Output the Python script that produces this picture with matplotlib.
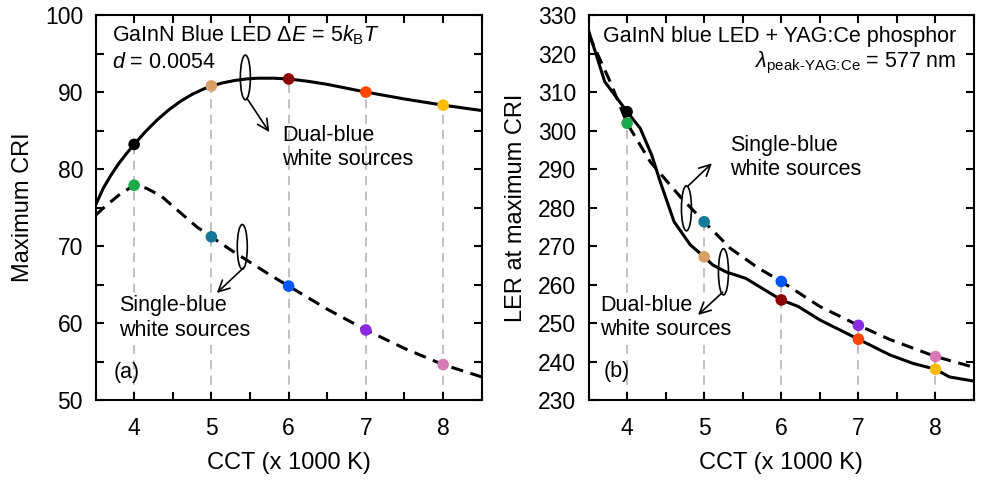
import numpy as np
import matplotlib
matplotlib.use("Agg")
import matplotlib.pyplot as plt
from matplotlib.patches import Ellipse
from matplotlib.ticker import MultipleLocator

plt.rcParams['font.family'] = ['Liberation Sans', 'DejaVu Sans']
plt.rcParams['mathtext.fontset'] = 'custom'
plt.rcParams['mathtext.rm'] = 'Liberation Sans'
plt.rcParams['mathtext.it'] = 'Liberation Sans:italic'
plt.rcParams['mathtext.bf'] = 'Liberation Sans:bold'

# --- data ---
cct = [4, 5, 6, 7, 8]
dual_colors = ['#000000', '#d9a066', '#8b0000', '#ff4500', '#ffbb00']
single_colors = ['#1aaa4a', '#137a99', '#0055ff', '#8a2be2', '#d87ab8']

# (a) maximum CRI
cri_dual_pts = [83.2, 90.8, 91.7, 90.0, 88.3]
cri_single_pts = [77.9, 71.2, 64.8, 59.1, 54.6]
cri_dual_x = [3.5, 3.6, 3.7, 3.8, 3.9, 4.0, 4.15, 4.3, 4.45, 4.6, 4.75, 4.9, 5.0, 5.15, 5.3, 5.45,
              5.6, 5.8, 6.0, 6.25, 6.5, 6.75, 7.0, 7.5, 8.0, 8.5]
cri_dual_y = [75.3, 77.5, 79.2, 80.7, 82.0, 83.2, 84.9, 86.4, 87.7, 88.8, 89.7, 90.4, 90.8, 91.2, 91.5, 91.7,
              91.8, 91.8, 91.7, 91.4, 91.0, 90.5, 90.0, 89.1, 88.3, 87.6]
cri_single_x = [3.5, 3.62, 3.8, 4.0, 4.16, 4.35, 4.51, 4.66, 4.81, 5.0, 5.25, 5.5, 5.75, 6.0,
                6.5, 7.0, 7.5, 8.0, 8.5]
cri_single_y = [74.0, 75.1, 76.6, 77.9, 77.5, 76.5, 75.1, 73.8, 72.5, 71.2, 69.5, 67.9, 66.3, 64.8,
                61.8, 59.1, 56.7, 54.6, 53.0]

# (b) LER at maximum CRI
ler_dual_pts = [304.9, 267.2, 256.0, 245.8, 238.0]
ler_single_pts = [301.9, 276.3, 260.8, 249.4, 241.3]
ler_dual_x = [3.5, 3.71, 4.0, 4.17, 4.32, 4.43, 4.61, 4.82, 5.0, 5.11, 5.28, 5.54,
              6.0, 6.22, 6.5, 6.72, 7.0, 7.41, 7.71, 8.0, 8.18, 8.5]
ler_dual_y = [326.0, 312.7, 304.9, 300.6, 293.6, 286.7, 276.3, 270.3, 267.2, 265.1, 263.3, 261.6,
              256.0, 254.3, 250.8, 248.6, 245.8, 241.7, 239.5, 238.0, 236.0, 234.9]
ler_single_x = [3.5, 3.78, 4.0, 4.3, 4.69, 5.0, 5.34, 5.7, 6.0, 6.5, 7.0, 7.41, 8.0, 8.5]
ler_single_y = [325.0, 312.7, 301.9, 291.9, 282.8, 276.3, 269.4, 264.3, 260.8, 254.3, 249.4, 245.7, 241.3, 238.5]

fig = plt.figure(figsize=(9.98, 4.83), dpi=100)
ax1 = fig.add_axes([0.0957, 0.1718, 0.387, 0.797])
ax2 = fig.add_axes([0.5897, 0.1718, 0.3863, 0.797])

FS = 15.5

def style_axes(ax, ylo, yhi, ymajor, yminor):
    ax.set_xlim(3.5, 8.5)
    ax.set_ylim(ylo, yhi)
    ax.xaxis.set_major_locator(MultipleLocator(1))
    ax.xaxis.set_minor_locator(MultipleLocator(0.5))
    ax.yaxis.set_major_locator(MultipleLocator(ymajor))
    ax.yaxis.set_minor_locator(MultipleLocator(yminor))
    ax.tick_params(which='both', direction='in', top=True, right=True,
                   length=6, width=1.5, labelsize=16.5)
    ax.tick_params(axis='x', pad=12)
    ax.tick_params(axis='y', pad=9)
    for s in ax.spines.values():
        s.set_linewidth(1.5)
    ax.set_xlabel('CCT (x 1000 K)', fontsize=17, labelpad=9)

def ellipse_arrow(ax, cx, cy, w, h, start, end):
    ax.add_patch(Ellipse((cx, cy), w, h, fill=False, lw=1.2, ec='black', zorder=5))
    ax.annotate('', xy=end, xytext=start,
                arrowprops=dict(arrowstyle='->,head_length=0.8,head_width=0.4',
                                lw=1.2, color='black', shrinkA=0, shrinkB=0), zorder=5)

# ---- (a) ----
style_axes(ax1, 50, 100, 10, 5)
ax1.vlines(cct, 50, cri_dual_pts, colors='#bbbbbb', linestyles=(0, (5, 3.5)), lw=1.3, zorder=1)
ax1.plot(cri_dual_x, cri_dual_y, '-', color='black', lw=2.2, zorder=2)
ax1.plot(cri_single_x, cri_single_y, '--', color='black', lw=2.2, dashes=(4, 2.5), zorder=2)
ax1.scatter(cct, cri_dual_pts, c=dual_colors, s=70, zorder=4, edgecolors='none')
ax1.scatter(cct, cri_single_pts, c=single_colors, s=70, zorder=4, edgecolors='none')
ax1.set_ylabel('Maximum CRI', fontsize=17, labelpad=8)
ax1.text(3.71, 97.4, r'GaInN Blue LED $\mathit{\Delta E}$ = 5$\mathit{k}_{\rm B}\mathit{T}$',
         fontsize=FS, va='center')
ax1.text(3.71, 93.9, r'$\mathit{d}$ = 0.0054', fontsize=FS, va='center')
ax1.text(3.73, 53.6, '(a)', fontsize=FS, va='center')
ax1.text(5.92, 85.7, 'Dual-blue\nwhite sources', fontsize=FS, va='top', linespacing=1.2)
ax1.text(3.81, 63.6, 'Single-blue\nwhite sources', fontsize=FS, va='top', linespacing=1.2,
         bbox=dict(fc='white', ec='none', pad=0.5), zorder=3)
ellipse_arrow(ax1, 5.44, 91.9, 0.13, 5.8, (5.46, 89.2), (5.75, 84.8))
ellipse_arrow(ax1, 5.40, 69.9, 0.13, 5.8, (5.43, 67.3), (5.07, 63.9))

# ---- (b) ----
style_axes(ax2, 230, 330, 10, 10)
ax2.vlines(cct, 230, ler_single_pts, colors='#bbbbbb', linestyles=(0, (5, 3.5)), lw=1.3, zorder=1)
ax2.plot(ler_dual_x, ler_dual_y, '-', color='black', lw=2.2, zorder=2)
ax2.plot(ler_single_x, ler_single_y, '--', color='black', lw=2.2, dashes=(4, 2.5), zorder=2)
ax2.scatter(cct, ler_dual_pts, c=dual_colors, s=70, zorder=4, edgecolors='none')
ax2.scatter(cct, ler_single_pts, c=single_colors, s=70, zorder=4, edgecolors='none')
ax2.set_ylabel('LER at maximum CRI', fontsize=17, labelpad=8)
ax2.text(8.27, 324.4, 'GaInN blue LED + YAG:Ce phosphor', fontsize=FS, va='center', ha='right')
ax2.text(8.27, 317.5, r'$\mathit{\lambda}_{\text{peak-YAG:Ce}}$ = 577 nm', fontsize=FS,
         va='center', ha='right')
ax2.text(3.69, 237.4, '(b)', fontsize=FS, va='center')
ax2.text(5.34, 298.8, 'Single-blue\nwhite sources', fontsize=FS, va='top', linespacing=1.2)
ax2.text(3.65, 257.3, 'Dual-blue\nwhite sources', fontsize=FS, va='top', linespacing=1.2,
         bbox=dict(fc='white', ec='none', pad=0.5), zorder=3)
ellipse_arrow(ax2, 4.77, 279.8, 0.13, 11.7, (4.78, 285.4), (5.10, 291.5))
ellipse_arrow(ax2, 5.25, 263.3, 0.13, 12.0, (5.24, 258.0), (4.92, 252.1))

fig.savefig('out.png', dpi=100)
